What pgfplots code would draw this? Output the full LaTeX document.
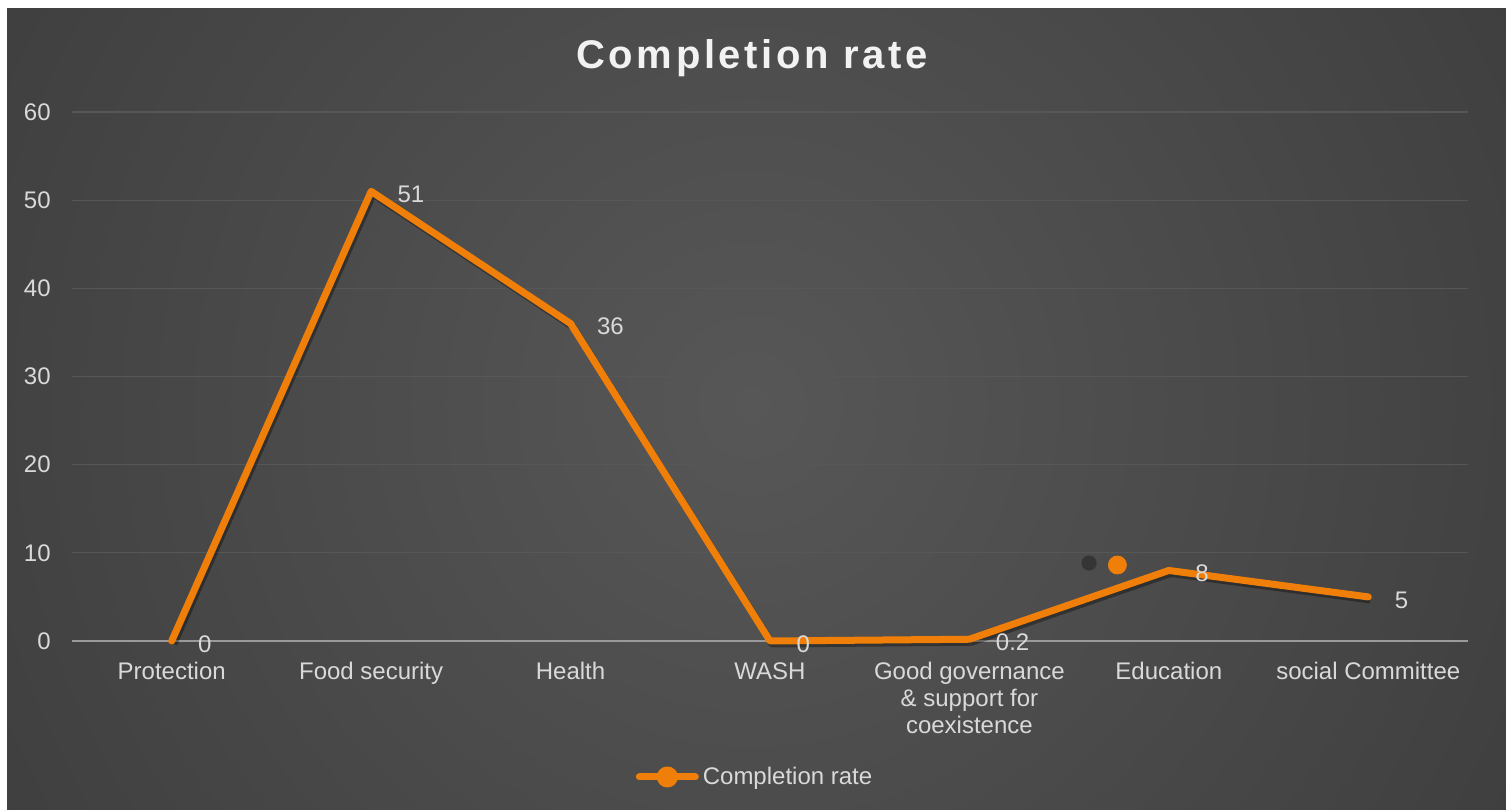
\documentclass[border=0pt]{standalone}
\usepackage{pgfplots}
\pgfplotsset{compat=1.18}
\usepackage{fontspec}
\setmainfont{Liberation Sans}
\definecolor{lineorange}{HTML}{F07F09}
\definecolor{txt}{HTML}{D9D9D9}
\definecolor{titlec}{HTML}{F2F2F2}
\definecolor{gridc}{HTML}{575757}
\definecolor{axisc}{HTML}{9A9A9A}
\definecolor{bgA}{HTML}{575757}
\definecolor{bgB}{HTML}{414141}
\definecolor{bgC}{HTML}{2C2C2C}
\definecolor{bgD}{HTML}{232323}
\pgfdeclareradialshading{bgshade}{\pgfpoint{0bp}{0bp}}{color(0bp)=(bgA); color(22bp)=(bgB); color(41.7bp)=(bgC); color(50bp)=(bgD)}
\begin{document}
\begin{tikzpicture}
\useasboundingbox (0,0) rectangle (753bp,405bp);
\fill[white] (0,0) rectangle (753bp,405bp);
\begin{scope}
\clip (3.5bp,0) rectangle (753bp,400.5bp);
\shade[shading=bgshade] (376bp,202.5bp) circle (450bp);
\end{scope}
\begin{axis}[
  at={(36bp,84.5bp)}, anchor=south west,
  scale only axis, width=698bp, height=264.5bp,
  xmin=-0.5, xmax=6.5, ymin=0, ymax=60,
  ytick={0,10,...,60},
  xtick={0,...,6},
  xticklabels={Protection, Food security, Health, WASH, {Good governance\\\& support for\\coexistence}, Education, social Committee},
  /pgf/number format/assume math mode=true,
  axis line style={draw=none},
  major tick length=0pt,
  ymajorgrids, grid style={gridc, line width=0.6bp},
  tick label style={font=\fontsize{12bp}{13.5bp}\selectfont, text=txt},
  yticklabel style={anchor=east, inner sep=0pt, xshift=-10.5bp},
  xticklabel style={anchor=north, inner sep=0pt, yshift=-10.5bp, align=center},
  legend style={at={(0.49,-0.257)}, anchor=center, draw=none, fill=none,
    font=\fontsize{12bp}{13.5bp}\selectfont, text=txt,
    /tikz/every even column/.append style={column sep=0pt}},
  legend image code/.code={
    \draw[#1, mark=none] (0bp,0bp) -- (28bp,0bp);
    \fill[lineorange] (14bp,0bp) circle (3.5bp);
  },
  clip=false,
]
\draw[axisc, line width=1bp] (axis cs:-0.5,0) -- (axis cs:6.5,0);
% shadow of the line
\addplot[black, opacity=0.35, line width=3.5bp, line join=round, xshift=1bp, yshift=-1.5bp, forget plot]
  coordinates {(0,0) (1,51) (2,36) (3,0) (4,0.2) (5,8) (6,5)};
\addplot[lineorange, line width=3.5bp, line join=round, line cap=round,
  nodes near coords, point meta=explicit symbolic,
  every node near coord/.append style={anchor=west, inner sep=0pt, xshift=11.5bp, yshift=-1.5bp,
     font=\fontsize{12bp}{13.5bp}\selectfont, text=txt}]
  table[meta=lab] {
x y lab
0 0 0
1 51 51
2 36 36
3 0 0
4 0.2 0.2
5 8 8
6 5 5
};
\addlegendentry{Completion rate}
% stray marker and its shadow
\addplot[black!85, opacity=0.6, only marks, mark=*, mark size=3.8bp, mark options={draw opacity=0, fill=black!85}, forget plot]
  coordinates {(4.60,8.84)};
\addplot[lineorange, only marks, mark=*, mark size=4.5bp, mark options={draw=lineorange, fill=lineorange}, forget plot]
  coordinates {(4.742,8.62)};
\end{axis}
\node[anchor=base, text=titlec, inner sep=0pt, font=\fontsize{20bp}{22bp}\selectfont\bfseries\addfontfeature{LetterSpace=9}] at (376bp,370.5bp) {Completion rate};
\end{tikzpicture}
\end{document}
